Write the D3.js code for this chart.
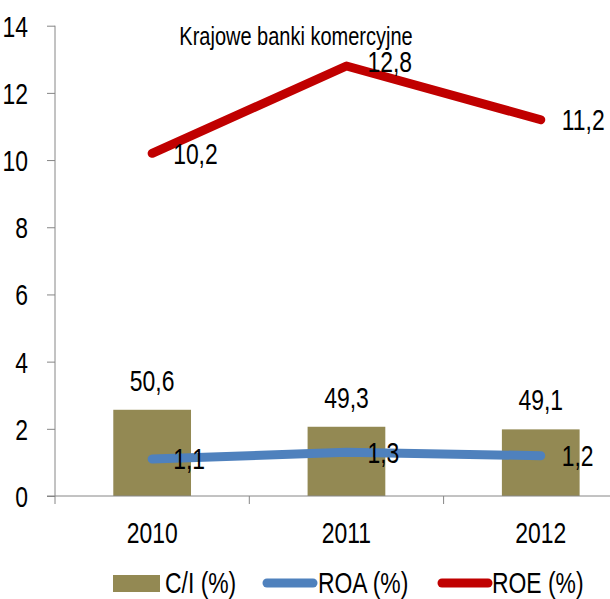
<!DOCTYPE html>
<html>
<head>
<meta charset="utf-8">
<script src="https://cdn.jsdelivr.net/npm/d3@7"></script>
<style>
  html, body { margin: 0; padding: 0; background: #fff; }
  svg text { font-family: "Liberation Sans Narrow", "Arial Narrow", "Liberation Sans", Arial, sans-serif; fill: #000; }
</style>
</head>
<body>
<div id="chart"></div>
<script>
(function() {"use strict";

    // dane wykresu
    var years      = ["2010", "2011", "2012"];
    var ciValues   = [50.6, 49.3, 49.1];      // C/I (%) - os pomocnicza (ukryta)
    var roaValues  = [1.1, 1.3, 1.2];         // ROA (%)
    var roeValues  = [10.2, 12.8, 11.2];      // ROE (%)
    var yTicks     = [0, 2, 4, 6, 8, 10, 12, 14];
    var ciDomain   = [44, 80];                // zakres osi pomocniczej C/I
    var legendNames = ["C/I (%)", "ROA (%)", "ROE (%)"];
    var title      = "Krajowe banki komercyjne";

    var colors = { ci: "#938953", roa: "#4f81bd", roe: "#c00000", axis: "#868686" };

    var width  = 610,
        height = 599,
        x0     = 55,
        bandW  = 194.3,
        yBot   = 496,
        yTop   = 25.7,
        fontPx = "29px",
        narrowX = 0.79;     // brak czcionki "Narrow" -> zwezamy tekst

    var plFormat = d3.formatLocale({decimal: ",", thousands: " ", grouping: [3], currency: ["", " zł"]}).format(".1f");

    // zwezenie tekstu wokol jego punktu zaczepienia
    function narrow(sel, sx) {
        sel.attr("transform", function() {
            var t = d3.select(this),
                x = +t.attr("x") || 0,
                y = +t.attr("y") || 0;
            return "translate(" + x + "," + y + ") scale(" + (sx || narrowX) + ",1) translate(" + (-x) + "," + (-y) + ")";
        });
    }

    var svg = d3.select("#chart").append("svg")
        .attr("width", width)
        .attr("height", height);

    // Scales
    var xScale = d3.scaleBand().domain(years).range([x0, x0 + bandW * years.length]),
        yScale = d3.scaleLinear().domain([0, 14]).range([yBot, yTop]),
        ciScale = d3.scaleLinear().domain(ciDomain).range([yBot, yTop]);

    var cx = function(d, i) { return xScale(years[i]) + xScale.bandwidth() / 2; };
    var barW = xScale.bandwidth() * 0.4;

    // bary C/I
    svg.append("g").selectAll("rect").data(ciValues).enter()
        .append("rect")
        .attr("x", function(d, i) { return cx(d, i) - barW / 2; })
        .attr("y", function(d) { return ciScale(d); })
        .attr("width", barW)
        .attr("height", function(d) { return yBot - ciScale(d); })
        .attr("fill", colors.ci);

    // osie
    var yAxis = d3.axisLeft(yScale).tickValues(yTicks).tickSize(8).tickPadding(19).tickFormat(d3.format("d"));
    var gy = svg.append("g").attr("transform", "translate(" + x0 + ",0)").call(yAxis);
    gy.select(".domain").attr("stroke", colors.axis).attr("d", "M0," + yTop + "V" + yBot);
    gy.selectAll(".tick line").attr("stroke", colors.axis);
    gy.selectAll(".tick text").style("font-size", fontPx).attr("dy", "0.36em").call(narrow);

    var xAxis = d3.axisBottom(xScale).tickSize(0).tickPadding(26);
    var gx = svg.append("g").attr("transform", "translate(0," + yBot + ")").call(xAxis);
    gx.select(".domain").attr("stroke", colors.axis).attr("d", "M" + (x0 - 8) + ",0H" + width);
    gx.selectAll(".tick text").style("font-size", fontPx).call(narrow);
    // podzialki kategorii
    gx.selectAll(".sep").data(d3.range(years.length)).enter()
        .append("line")
        .attr("x1", function(i) { return xScale(years[i]); })
        .attr("x2", function(i) { return xScale(years[i]); })
        .attr("y1", 0).attr("y2", 8)
        .attr("stroke", colors.axis);

    // linie ROA / ROE
    var line = d3.line().x(function(d, i) { return cx(d, i); }).y(function(d) { return yScale(d); });

    [[roaValues, colors.roa], [roeValues, colors.roe]].forEach(function(s) {
        svg.append("path")
            .datum(s[0])
            .attr("d", line)
            .attr("fill", "none")
            .attr("stroke", s[1])
            .attr("stroke-width", 9)
            .attr("stroke-linecap", "round")
            .attr("stroke-linejoin", "round");
    });

    // etykiety danych
    svg.append("g").selectAll("text").data(ciValues).enter()
        .append("text")
        .attr("x", function(d, i) { return cx(d, i); })
        .attr("y", function(d) { return ciScale(d) - 19; })
        .attr("text-anchor", "middle")
        .style("font-size", fontPx)
        .text(plFormat)
        .call(narrow);

    [roaValues, roeValues].forEach(function(vals) {
        svg.append("g").selectAll("text").data(vals).enter()
            .append("text")
            .attr("x", function(d, i) { return cx(d, i) + 21; })
            .attr("y", function(d, i) { return yScale(d) + (vals === roeValues && i === 1 ? -4 : 0); })
            .attr("dy", "0.36em")
            .style("font-size", fontPx)
            .text(plFormat)
            .call(narrow);
    });

    // tytul
    svg.append("text")
        .attr("x", 296)
        .attr("y", 45)
        .attr("text-anchor", "middle")
        .style("font-size", "25px")
        .text(title)
        .call(narrow, 0.8);

    // legenda
    var legend = svg.append("g").attr("transform", "translate(0,583)");
    legend.append("rect").attr("x", 113).attr("y", -8).attr("width", 47).attr("height", 17).attr("fill", colors.ci);
    legend.append("line").attr("x1", 267).attr("x2", 313).attr("stroke", colors.roa)
        .attr("stroke-width", 9).attr("stroke-linecap", "round");
    legend.append("line").attr("x1", 442).attr("x2", 488).attr("stroke", colors.roe)
        .attr("stroke-width", 9).attr("stroke-linecap", "round");
    legend.selectAll("text.lg").data(legendNames).enter()
        .append("text")
        .attr("class", "lg")
        .attr("x", function(d, i) { return [165, 318, 492][i]; })
        .attr("y", 10)
        .style("font-size", fontPx)
        .text(function(d) { return d; })
        .call(narrow);

})();
</script>
</body>
</html>
